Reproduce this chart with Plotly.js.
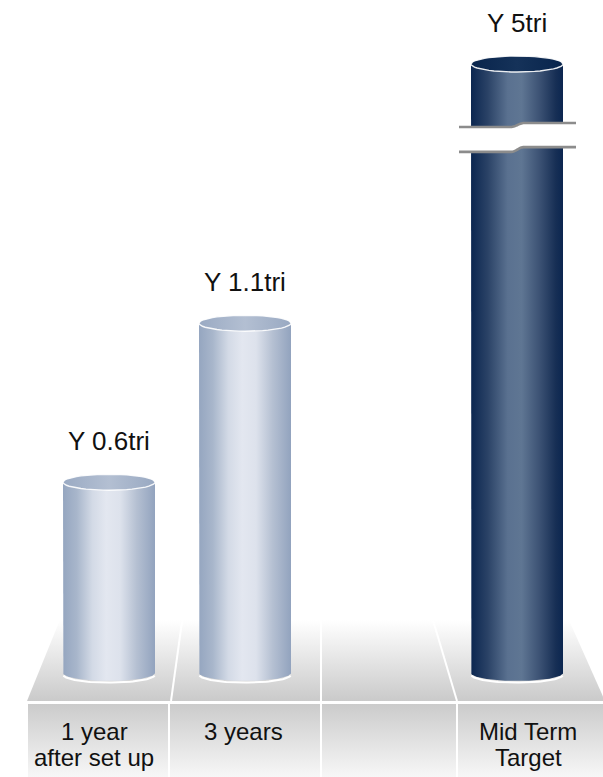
<!DOCTYPE html>
<html><head><meta charset="utf-8">
<script src="https://cdn.plot.ly/plotly-3.0.1.min.js"></script>
<style>html,body{margin:0;padding:0;background:#fff;overflow:hidden}#chart{width:603px;height:777px}</style>
</head><body><div id="chart"></div>
<script>
// ---------------- data ----------------
const categories  = ['1 year<br>after set up', '3 years', '', 'Mid Term<br>Target'];
const values      = [0.6, 1.1, null, 5];            // trillion yen
const valueLabels = ['Y 0.6tri', 'Y 1.1tri', '', 'Y 5tri'];

// ---------------- style / layout constants ----------------
const W = 603, H = 777;
const X0 = 109, DX = 136;          // pixel of first category centre, pixels per category
const Y0 = 673, DY = 318;          // pixel of value 0, pixels per trillion
const halfW = 46 / DX;             // cylinder half width (category units)
const ry = 8 / DY;                 // ellipse half height (value units)
const displayCap = (Y0 - 64) / DY; // tall bar is drawn truncated (broken axis)
const breakPx = [125, 149.5];      // centre lines of the break marks (pixels from top)
const labelX = [94, 243, 337, 528];// label centres in the front band (perspective)
const labelTop = 716, labelLine = 26;
const FONT = '"Liberation Sans", Arial, sans-serif';

const lightScale = [[0,'#95a6c0'],[0.15,'#a8b6cb'],[0.32,'#d3dae6'],[0.47,'#e3e7f0'],[0.62,'#dde2ec'],[0.8,'#b5c0d2'],[1,'#92a3be']];
const darkScale  = [[0,'#0b2650'],[0.18,'#2a4266'],[0.4,'#5a7190'],[0.55,'#5f7693'],[0.75,'#3b5173'],[0.92,'#172f55'],[1,'#0b2650']];
const lightTop   = [[0,'#9aaac3'],[0.5,'#b3bfd2'],[1,'#99a9c2']];
const darkTop    = [[0,'#08244c'],[0.5,'#153259'],[1,'#08244c']];
const barStyles  = [
  {body: lightScale, top: lightTop},
  {body: lightScale, top: lightTop},
  null,
  {body: darkScale, top: darkTop}
];

// ---------------- decor (floor + label band), pixel axes x/y ----------------
const traces = [];
traces.push({x:[27,605,560,68,27], y:[701,701,600,600,701], xaxis:'x', yaxis:'y',
  mode:'lines', fill:'toself', line:{width:0}, hoverinfo:'skip', showlegend:false,
  fillgradient:{type:'vertical', start:600, stop:701, colorscale:[[0,'#ffffff'],[0.2,'#ffffff'],[1,'#cacaca']]}});
[[171,701,185,600],[321,701,321,600],[457,701,427,600]].forEach(s=>{
  traces.push({x:[s[0],s[2]], y:[s[1],s[3]], xaxis:'x', yaxis:'y', mode:'lines',
    line:{color:'#ffffff', width:2}, hoverinfo:'skip', showlegend:false});
});
traces.push({x:[28,603,603,28,28], y:[704,704,777,777,704], xaxis:'x', yaxis:'y',
  mode:'lines', fill:'toself', line:{width:0}, hoverinfo:'skip', showlegend:false,
  fillgradient:{type:'vertical', start:704, stop:777, colorscale:[[0,'#cbcbcb'],[1,'#f7f7f7']]}});
[169,321,457].forEach(x=>{
  traces.push({x:[x,x], y:[704,777], xaxis:'x', yaxis:'y', mode:'lines',
    line:{color:'#ffffff', width:2}, hoverinfo:'skip', showlegend:false});
});

// ---------------- cylinders, data axes x2/y2 ----------------
const N = 48;
function ell(xc, yc, t0, t1, dy) {
  const xs = [], ys = [];
  for (let k = 0; k <= N; k++) {
    const t = t0 + (t1 - t0) * k / N;
    xs.push(xc + halfW * Math.cos(t));
    ys.push(yc + ry * Math.sin(t) + (dy || 0));
  }
  return [xs, ys];
}
values.forEach((v, i) => {
  if (v === null) return;
  const st = barStyles[i];
  const h = Math.min(v, displayCap);
  // body
  const [bx, by] = ell(i, 0, Math.PI, 2 * Math.PI);
  traces.push({x:[i - halfW, ...bx, i + halfW, i - halfW], y:[h, ...by, h, h],
    xaxis:'x2', yaxis:'y2', mode:'lines', fill:'toself', line:{width:0},
    fillgradient:{type:'horizontal', colorscale: st.body},
    hoverinfo:'skip', showlegend:false});
  // reflection under the base
  const [rx, ryy] = ell(i, 0, Math.PI * 1.04, Math.PI * 1.96, -1.6 / DY);
  traces.push({x:rx, y:ryy, xaxis:'x2', yaxis:'y2', mode:'lines',
    line:{color:'#ffffff', width:2}, hoverinfo:'skip', showlegend:false});
  // top ellipse
  const [tx, ty] = ell(i, h, 0, 2 * Math.PI);
  traces.push({x:tx, y:ty, xaxis:'x2', yaxis:'y2', mode:'lines', fill:'toself',
    line:{color:'rgba(255,255,255,0.9)', width:1.4},
    fillgradient:{type:'horizontal', colorscale: st.top},
    hoverinfo:'skip', showlegend:false});
  // broken-axis marks when value exceeds the visible scale
  if (v > displayCap) {
    const wave = (dxPx) => {
      const a = -6, b = 7;
      if (dxPx <= a) return 2;
      if (dxPx >= b) return -2;
      return 2 * Math.cos(Math.PI * (dxPx - a) / (b - a));
    };
    const xsPx = [];
    for (let k = 0; k <= 60; k++) xsPx.push(-58 + 117 * k / 60);
    const up = xsPx.map(d => (Y0 - (breakPx[0] + wave(d))) / DY);
    const lo = xsPx.map(d => (Y0 - (breakPx[1] + wave(d) * 1.2)) / DY);
    const xx = xsPx.map(d => i + d / DX);
    traces.push({x:[...xx, ...xx.slice().reverse()], y:[...up, ...lo.slice().reverse()],
      xaxis:'x2', yaxis:'y2', mode:'lines', fill:'toself', fillcolor:'#ffffff',
      line:{width:0}, hoverinfo:'skip', showlegend:false});
    [up, lo].forEach(yy => {
      traces.push({x:xx, y:yy, xaxis:'x2', yaxis:'y2', mode:'lines',
        line:{color:'#8c8c8c', width:2.6, shape:'spline'}, hoverinfo:'skip', showlegend:false});
    });
  }
});

// ---------------- annotations ----------------
const annotations = [];
values.forEach((v, i) => {
  if (v === null) return;
  const h = Math.min(v, displayCap);
  annotations.push({xref:'x2', yref:'y2', x:i, y:h + ry, yanchor:'bottom', xanchor:'center',
    text: valueLabels[i], showarrow:false, yshift:16,
    font:{family:FONT, size:26, color:'#111111'}});
});
categories.forEach((c, i) => {
  if (!c) return;
  c.split('<br>').forEach((line, j) => {
    annotations.push({xref:'x', yref:'y', x:labelX[i], y:labelTop + j * labelLine,
      yanchor:'top', xanchor:'center', text: line, showarrow:false,
      font:{family:FONT, size:24, color:'#111111'}});
  });
});

const hidden = {visible:false, showgrid:false, zeroline:false, fixedrange:true};
const layout = {
  width: W, height: H, margin:{l:0, r:0, t:0, b:0},
  paper_bgcolor:'#ffffff', plot_bgcolor:'rgba(0,0,0,0)', showlegend:false,
  xaxis: Object.assign({range:[0, W], domain:[0,1]}, hidden),
  yaxis: Object.assign({range:[H, 0], domain:[0,1]}, hidden),
  xaxis2: Object.assign({range:[-X0 / DX, (W - X0) / DX], overlaying:'x', anchor:'y2'}, hidden),
  yaxis2: Object.assign({range:[-(H - Y0) / DY, Y0 / DY], overlaying:'y', anchor:'x2'}, hidden),
  annotations: annotations
};
Plotly.newPlot('chart', traces, layout, {displayModeBar:false, staticPlot:true});
</script></body></html>
